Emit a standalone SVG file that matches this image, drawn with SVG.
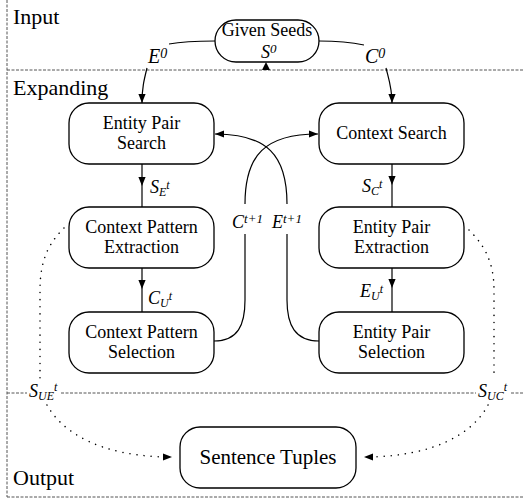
<svg xmlns="http://www.w3.org/2000/svg" width="523" height="504" viewBox="0 0 523 504" font-family="Liberation Serif, DejaVu Serif, serif">
<defs>
<marker id="ah" viewBox="0 0 10 8" refX="10" refY="4" markerWidth="9" markerHeight="7.5" markerUnits="userSpaceOnUse" orient="auto"><path d="M0,0 L10,4 L0,8 z" fill="#000"/></marker>
<style>
.sec{fill:none;stroke:#555;stroke-width:1;stroke-dasharray:3 1.5}
.box{fill:#fff;stroke:#000;stroke-width:1.3}
.t{font-family:'Liberation Serif','DejaVu Serif',serif;font-size:18px;fill:#000;text-anchor:middle}
.lab{font-family:'Liberation Serif','DejaVu Serif',serif;font-size:22px;fill:#000}
.m{font-family:'Liberation Serif','DejaVu Serif',serif;font-style:italic;font-size:18px;fill:#000}
.s{font-size:12px}
.ln{fill:none;stroke:#000;stroke-width:1.2}
.dot{fill:none;stroke:#000;stroke-width:1.5;stroke-dasharray:0.1 7;stroke-linecap:round}
.bg{fill:#fff}
</style>
</defs>
<g id="sections">
<line class="sec" x1="7" y1="0" x2="7" y2="497"/>
<line class="sec" x1="7" y1="70" x2="523" y2="70"/>
<line class="sec" x1="7" y1="393" x2="523" y2="393"/>
<line class="sec" x1="7" y1="497" x2="523" y2="497"/>
<text class="lab" x="13" y="24">Input</text>
<text class="lab" x="13" y="95">Expanding</text>
<text class="lab" x="13" y="485">Output</text>
</g>
<g id="connectors">
<path class="ln" d="M215,41 C200,41 185,41 169,44"/>
<path class="ln" d="M319,41 C335,41 350,42 364,45"/>
<path class="ln" d="M147,68 C144,80 142,88 142,103" marker-end="url(#ah)"/>
<path class="ln" d="M386,68 C389,80 392,88 392,103" marker-end="url(#ah)"/>
<path d="M266,62 L270,70 L262,70 z" fill="#000"/>
<path class="ln" d="M142,164 L142,186" marker-end="url(#ah)"/>
<path class="ln" d="M142,186 L142,207"/>
<path class="ln" d="M392,164 L392,185" marker-end="url(#ah)"/>
<path class="ln" d="M392,185 L392,207"/>
<path class="ln" d="M142,268 L142,289" marker-end="url(#ah)"/>
<path class="ln" d="M142,289 L142,312"/>
<path class="ln" d="M392,268 L392,288" marker-end="url(#ah)"/>
<path class="ln" d="M392,288 L392,312"/>
<path class="ln" d="M214,341 C238,341 245,325 245,300 L245,234"/>
<path class="ln" d="M245,204 C245,155 265,134 318,134" marker-end="url(#ah)"/>
<path class="ln" d="M319,341 C295,341 287,325 287,300 L287,234"/>
<path class="ln" d="M287,204 C287,155 267,134 215,134" marker-end="url(#ah)"/>
<path class="dot" d="M64,228 C50,242 40,258 40,290 L40,378"/>
<path class="dot" d="M47,405 C62,432 100,457 172,457" marker-end="url(#ah)"/>
<path class="dot" d="M469,230 C483,244 494,260 494,290 L494,378"/>
<path class="dot" d="M488,405 C474,432 436,457 364,457" marker-end="url(#ah)"/>
<rect class="bg" x="27" y="381" width="34" height="22"/>
<rect class="bg" x="476" y="381" width="35" height="22"/>
<text class="m" x="148" y="63" style="font-size:20px">E<tspan class="s" dy="-5" style="font-size:14px">0</tspan></text>
<text class="m" x="365" y="63" style="font-size:20px">C<tspan class="s" dy="-5" style="font-size:14px">0</tspan></text>
<text class="m" x="150" y="193">S<tspan class="s" dy="3">E</tspan><tspan class="s" dy="-7">t</tspan></text>
<text class="m" x="362" y="192">S<tspan class="s" dy="3">C</tspan><tspan class="s" dy="-7">t</tspan></text>
<text class="m" x="148" y="304">C<tspan class="s" dy="3">U</tspan><tspan class="s" dy="-7">t</tspan></text>
<text class="m" x="360" y="297">E<tspan class="s" dy="3">U</tspan><tspan class="s" dy="-7">t</tspan></text>
<text class="m" x="232" y="228">C<tspan class="s" dy="-5" style="font-size:13px">t+1</tspan></text>
<text class="m" x="272" y="228">E<tspan class="s" dy="-5" style="font-size:13px">t+1</tspan></text>
<text class="m" x="29" y="397">S<tspan class="s" dy="3">UE</tspan><tspan class="s" dy="-9">t</tspan></text>
<text class="m" x="478" y="397">S<tspan class="s" dy="3">UC</tspan><tspan class="s" dy="-9">t</tspan></text>
</g>
<g id="seeds">
<rect class="box" x="215" y="20" width="104" height="42" rx="21"/>
<text class="t" x="267" y="36">Given Seeds</text>
<text class="m" x="261" y="58">S<tspan class="s" dy="-5" style="font-size:13px">0</tspan></text>
</g>
<g id="entity-pair-search">
<rect class="box" x="69" y="103" width="145" height="61" rx="20"/>
<text class="t" x="141.5" y="129">Entity Pair</text>
<text class="t" x="141.5" y="149">Search</text>
</g>
<g id="context-pattern-extraction">
<rect class="box" x="69" y="207" width="145" height="61" rx="20"/>
<text class="t" x="141.5" y="233">Context Pattern</text>
<text class="t" x="141.5" y="253">Extraction</text>
</g>
<g id="context-pattern-selection">
<rect class="box" x="69" y="312" width="145" height="61" rx="20"/>
<text class="t" x="141.5" y="338">Context Pattern</text>
<text class="t" x="141.5" y="358">Selection</text>
</g>
<g id="context-search">
<rect class="box" x="319" y="103" width="145" height="61" rx="20"/>
<text class="t" x="391.5" y="139">Context Search</text>
</g>
<g id="entity-pair-extraction">
<rect class="box" x="319" y="207" width="145" height="61" rx="20"/>
<text class="t" x="391.5" y="233">Entity Pair</text>
<text class="t" x="391.5" y="253">Extraction</text>
</g>
<g id="entity-pair-selection">
<rect class="box" x="319" y="312" width="145" height="61" rx="20"/>
<text class="t" x="391.5" y="338">Entity Pair</text>
<text class="t" x="391.5" y="358">Selection</text>
</g>
<g id="sentence-tuples">
<rect class="box" x="180" y="427" width="176" height="61" rx="20"/>
<text class="t" x="268" y="464" style="font-size:21px">Sentence Tuples</text>
</g>
</svg>
